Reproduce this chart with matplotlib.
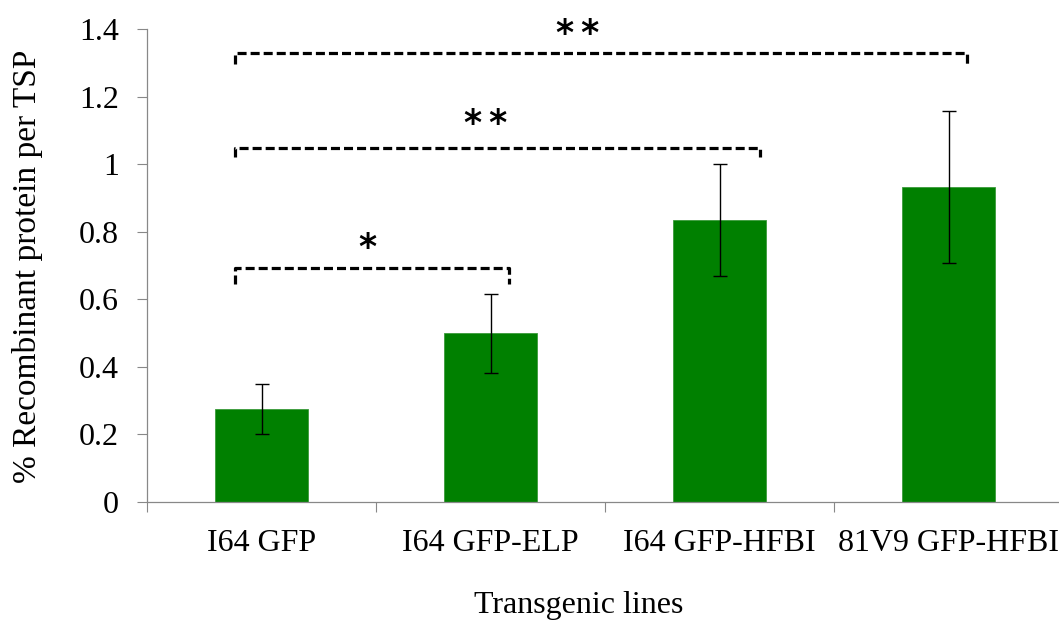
import matplotlib
matplotlib.use("Agg")
import matplotlib.pyplot as plt
import numpy as np

categories = ["I64 GFP", "I64 GFP-ELP", "I64 GFP-HFBI", "81V9 GFP-HFBI"]
values = [0.275, 0.499, 0.834, 0.932]
errors = [0.073, 0.118, 0.166, 0.225]
y_ticks = [0, 0.2, 0.4, 0.6, 0.8, 1.0, 1.2, 1.4]
y_tick_labels = ["0", "0.2", "0.4", "0.6", "0.8", "1", "1.2", "1.4"]
# significance brackets: (x_start, x_end, y_line, y_tick_end, label, label_x, label_y)
brackets = [
    (-0.114, 1.079, 0.692, 0.645, "*", 0.462, 0.753),
    (-0.114, 2.175, 1.047, 1.022, "*\u2009*", 0.98, 1.12),
    (-0.114, 3.079, 1.329, 1.296, "*\u2009*", 1.38, 1.385),
]

plt.rcParams['font.family'] = ['Liberation Serif', 'DejaVu Serif']
plt.rcParams['lines.scale_dashes'] = False

fig = plt.figure(figsize=(10.59, 6.23), dpi=100)
ax = fig.add_axes([147/1059, 121.3/623, 916/1059, 472.4/623])

x = np.arange(len(categories))
ax.bar(x, values, width=0.404, color="#008000", edgecolor="#3a9a3a", linewidth=0.6, zorder=2)
ax.errorbar(x, values, yerr=errors, fmt="none", ecolor="black", elinewidth=1.0,
            capsize=4.7, capthick=1.0, zorder=3)

ax.set_xlim(-0.5, 3.5)
ax.set_ylim(0, 1.4)
ax.set_yticks(y_ticks)
ax.set_yticklabels(y_tick_labels)

ax.set_xticks(np.arange(-0.5, 3.6, 1.0))
ax.set_xticklabels([])
ax.set_xticks(x, minor=True)
ax.set_xticklabels(categories, minor=True)
ax.tick_params(axis="x", which="major", length=7, width=0.8, color="#888888", direction="out")
ax.tick_params(axis="x", which="minor", length=0, pad=20, labelsize=23)
ax.tick_params(axis="y", length=7, width=0.8, color="#888888", direction="out", pad=13, labelsize=23)

for s in ["top", "right"]:
    ax.spines[s].set_visible(False)
for s in ["left", "bottom"]:
    ax.spines[s].set_color("#888888")
    ax.spines[s].set_linewidth(0.9)

for (x0, x1, yl, yt, lab, lx, ly) in brackets:
    line, = ax.plot([x0, x0, x1, x1], [yt, yl, yl, yt], color="black", linewidth=2.3,
                    linestyle="--", clip_on=False, zorder=4)
    line.set_dashes([6.5, 2.9])
    ax.text(lx, ly, lab, ha="center", va="center", fontsize=25, fontweight="bold",
            family="DejaVu Sans", clip_on=False)

fig.text(28/1059, 1 - 266/623, "% Recombinant protein per TSP", rotation=90,
         ha="center", va="center", fontsize=24)
fig.text(579/1059, 1 - 606/623, "Transgenic lines", ha="center", va="center", fontsize=23)

fig.savefig("out.png", dpi=100)
